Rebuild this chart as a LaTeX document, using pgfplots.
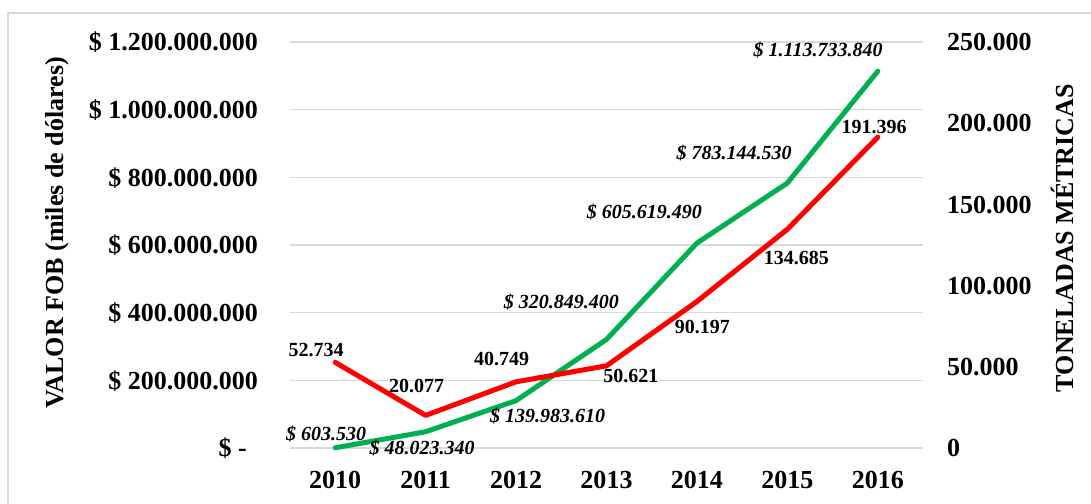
\documentclass[border=0pt]{standalone}
\usepackage{fontspec}
\setmainfont{Liberation Serif}
\usepackage{pgfplots}
\pgfplotsset{compat=1.18}
\definecolor{xgreen}{HTML}{00B050}
\definecolor{xred}{HTML}{FF0000}
\definecolor{gridgray}{HTML}{D9D9D9}
\newcommand{\tickfont}{\fontsize{26}{30}\selectfont\bfseries}
\newcommand{\lblfont}{\fontsize{20}{24}\selectfont\bfseries}
\begin{document}
\begin{tikzpicture}
\pgfplotsset{
  common/.style={
    scale only axis, width=633pt, height=406pt,
    xmin=2009.5, xmax=2016.5,
    axis line style={draw=none},
    major tick length=0pt,
    clip=false,
    scaled y ticks=false, scaled x ticks=false,
    tick label style={font=\tickfont, inner sep=0pt},
  }
}
\begin{axis}[common,
  ymin=0, ymax=1200000000,
  ytick={0,200000000,400000000,600000000,800000000,1000000000,1200000000},
  yticklabels={\$ -\hspace*{11pt},\$ 200.000.000,\$ 400.000.000,\$ 600.000.000,\$ 800.000.000,\$ 1.000.000.000,\$ 1.200.000.000},
  xtick={2010,2011,2012,2013,2014,2015,2016},
  xticklabels={2010,2011,2012,2013,2014,2015,2016},
  xticklabel style={anchor=base, yshift=-40.8pt},
  yticklabel style={anchor=base east, xshift=-32pt, yshift=-8.8pt},
  ymajorgrids, grid style={gridgray, line width=1.5pt},
  ylabel={VALOR FOB (miles de dólares)},
  ylabel style={at={(axis description cs:-0.368,0.53)}, anchor=center, font=\tickfont},
]
\addplot[xgreen, line width=5pt, line cap=round, line join=round] coordinates {
  (2010,603530) (2011,48023340) (2012,139983610) (2013,320849400)
  (2014,605619490) (2015,783144530) (2016,1113733840)};
% green labels
\node[font=\lblfont\itshape] at (axis cs:2009.90,41400000) {\$ 603.530};
\node[font=\lblfont\itshape] at (axis cs:2010.96,0) {\$ 48.023.340};
\node[font=\lblfont\itshape] at (axis cs:2012.35,94600000) {\$ 139.983.610};
\node[font=\lblfont\itshape] at (axis cs:2012.50,431500000) {\$ 320.849.400};
\node[font=\lblfont\itshape] at (axis cs:2013.42,697500000) {\$ 605.619.490};
\node[font=\lblfont\itshape] at (axis cs:2014.41,871900000) {\$ 783.144.530};
\node[font=\lblfont\itshape] at (axis cs:2015.34,1176400000) {\$ 1.113.733.840};
% red labels
\node[font=\lblfont] at (axis cs:2009.79,289700000) {52.734};
\node[font=\lblfont] at (axis cs:2010.90,183300000) {20.077};
\node[font=\lblfont] at (axis cs:2011.84,263100000) {40.749};
\node[font=\lblfont] at (axis cs:2013.27,212800000) {50.621};
\node[font=\lblfont] at (axis cs:2014.06,357600000) {90.197};
\node[font=\lblfont] at (axis cs:2015.10,561600000) {134.685};
\node[font=\lblfont] at (axis cs:2015.96,948800000) {191.396};
\end{axis}
\begin{axis}[common,
  ymin=0, ymax=250000,
  ytick={0,50000,100000,150000,200000,250000},
  yticklabels={0,50.000,100.000,150.000,200.000,250.000},
  yticklabel pos=right,
  xtick=\empty,
  yticklabel style={anchor=base west, xshift=24pt, yshift=-8.8pt},
  ylabel={TONELADAS MÉTRICAS},
  ylabel style={at={(axis description cs:1.221,0.517)}, anchor=center, font=\tickfont},
]
\addplot[xred, line width=5pt, line cap=round, line join=round] coordinates {
  (2010,52734) (2011,20077) (2012,40749) (2013,50621)
  (2014,90197) (2015,134685) (2016,191396)};
\end{axis}
\draw[gridgray, line width=1.5pt] (-282pt,-120pt) -- (-282pt,435pt) -- (900pt,435pt);
\pgfresetboundingbox
\useasboundingbox (-290pt,-55pt) rectangle (801pt,448pt);
\end{tikzpicture}
\end{document}
